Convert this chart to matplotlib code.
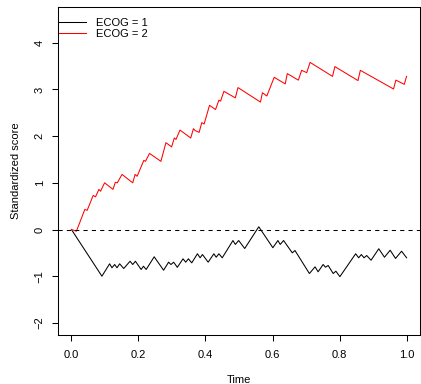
#!/usr/bin/env python
import matplotlib as mpl
mpl.use('Agg')
import matplotlib.pyplot as plt

# standardized score process, ECOG = 1
time_ecog1 = [0.0, 0.091, 0.114, 0.121, 0.129, 0.136, 0.144, 0.156, 0.175, 0.183,
              0.191, 0.208, 0.215, 0.223, 0.247, 0.275, 0.290, 0.297, 0.305, 0.316,
              0.333, 0.341, 0.349, 0.359, 0.376, 0.384, 0.391, 0.408, 0.425, 0.432,
              0.440, 0.450, 0.482, 0.489, 0.499, 0.517, 0.559, 0.601, 0.616, 0.623,
              0.633, 0.659, 0.667, 0.710, 0.727, 0.736, 0.751, 0.758, 0.766, 0.781,
              0.789, 0.801, 0.848, 0.857, 0.865, 0.873, 0.881, 0.894, 0.917, 0.934,
              0.951, 0.967, 0.985, 1.0]
score_ecog1 = [0.0, -1.00, -0.735, -0.82, -0.75, -0.82, -0.735, -0.836, -0.68, -0.75,
               -0.68, -0.857, -0.786, -0.857, -0.585, -0.872, -0.70, -0.75, -0.70, -0.81,
               -0.628, -0.70, -0.628, -0.714, -0.52, -0.606, -0.536, -0.70, -0.52, -0.594,
               -0.52, -0.606, -0.236, -0.32, -0.236, -0.407, 0.058, -0.39, -0.236, -0.32,
               -0.236, -0.50, -0.45, -0.943, -0.80, -0.906, -0.75, -0.808, -0.77, -0.943,
               -0.893, -1.01, -0.52, -0.606, -0.536, -0.606, -0.557, -0.658, -0.413, -0.594,
               -0.444, -0.62, -0.465, -0.606]

# standardized score process, ECOG = 2
time_ecog2 = [0.0, 0.015, 0.040, 0.047, 0.065, 0.072, 0.082, 0.087, 0.099, 0.124,
              0.131, 0.137, 0.151, 0.183, 0.190, 0.196, 0.216, 0.221, 0.233, 0.267,
              0.282, 0.299, 0.307, 0.312, 0.324, 0.356, 0.364, 0.369, 0.381, 0.389,
              0.396, 0.412, 0.430, 0.440, 0.445, 0.455, 0.489, 0.497, 0.564, 0.570,
              0.583, 0.605, 0.638, 0.644, 0.677, 0.687, 0.702, 0.712, 0.779, 0.786,
              0.855, 0.862, 0.961, 0.968, 0.993, 1.0]
score_ecog2 = [0.0, -0.036, 0.43, 0.41, 0.73, 0.70, 0.86, 0.82, 1.00, 0.86,
               1.01, 1.00, 1.18, 1.00, 1.18, 1.14, 1.48, 1.46, 1.63, 1.46,
               1.86, 1.77, 1.96, 1.93, 2.13, 1.96, 2.16, 2.12, 2.08, 2.29,
               2.26, 2.66, 2.57, 2.77, 2.75, 2.96, 2.82, 3.04, 2.73, 2.93,
               2.86, 3.26, 3.12, 3.34, 3.20, 3.41, 3.36, 3.58, 3.28, 3.49,
               3.19, 3.41, 3.01, 3.20, 3.11, 3.28]

xticks = [0.0, 0.2, 0.4, 0.6, 0.8, 1.0]
yticks = [-2, -1, 0, 1, 2, 3, 4]

plt.rcParams['font.family'] = ['Liberation Sans', 'DejaVu Sans']
plt.rcParams['font.size'] = 8

fig = plt.figure(figsize=(4.21, 3.84), dpi=100)
ax = fig.add_axes([58 / 421, 1 - 335 / 384, 362 / 421, (335 - 7.3) / 384])

ax.plot(time_ecog1, score_ecog1, color='black', lw=0.75, label='ECOG = 1')
ax.plot(time_ecog2, score_ecog2, color='#FF0000', lw=0.75, label='ECOG = 2')
ax.axhline(0, color='black', lw=0.75, linestyle=(0, (4, 4)))

# R-style 4% padding around the data range
ax.set_xlim(-0.04, 1.04)
ax.set_ylim(-2.26, 4.76)
ax.set_xticks(xticks)
ax.set_xticklabels(['%.1f' % t for t in xticks])
ax.set_yticks(yticks)
ax.set_yticklabels([str(t).replace('-', '\u2212') for t in yticks],
                   rotation=90, va='center')
ax.tick_params(direction='out', length=4.5, width=0.75, pad=6)
ax.tick_params(axis='y', pad=5)
for s in ax.spines.values():
    s.set_linewidth(0.75)

ax.set_xlabel('Time', labelpad=11)
ax.set_ylabel('Standardized score', labelpad=10)

ax.legend(loc='upper left', bbox_to_anchor=(0.0, 0.970), frameon=False,
          handlelength=2.5, handletextpad=0.85, borderaxespad=0.0,
          borderpad=0.05, labelspacing=0.15)

fig.savefig('out.png', dpi=100)
